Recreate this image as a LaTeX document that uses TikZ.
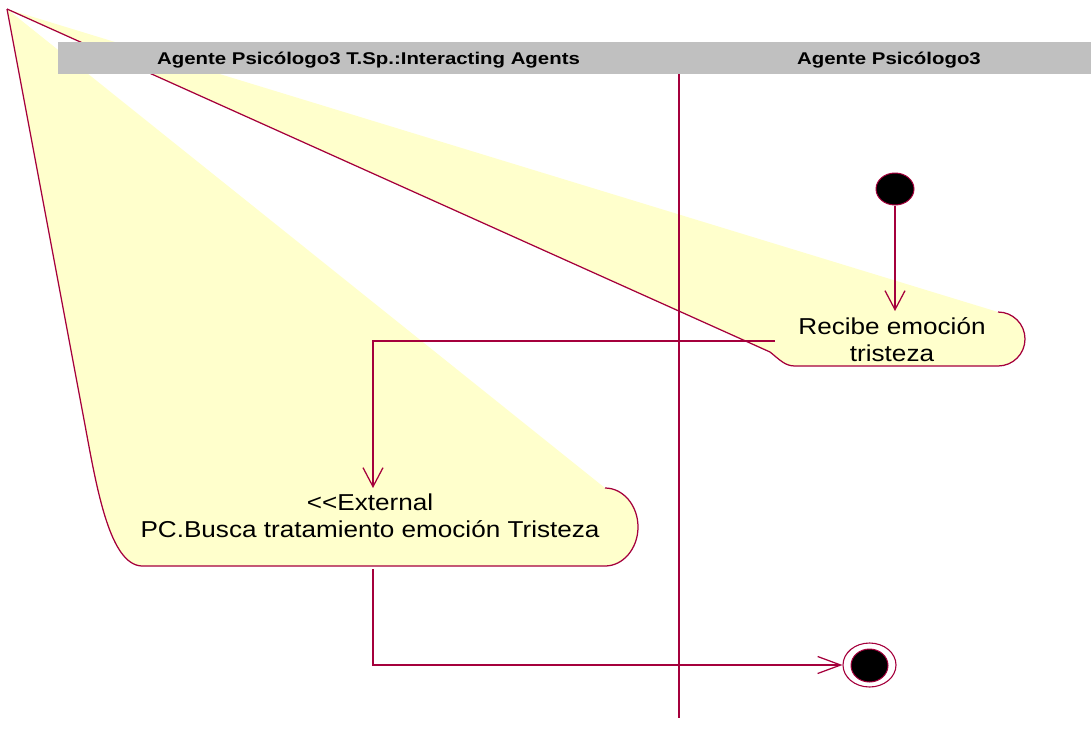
\documentclass[tikz,border=0pt]{standalone}
\usepackage{fontspec}
\usetikzlibrary{arrows.meta,shapes.geometric}
\newfontfamily\lanefont[FakeStretch=1.2]{Liberation Sans}
\newfontfamily\actfont[FakeStretch=1.135]{Liberation Sans}
\definecolor{edge}{RGB}{165,0,60}
\definecolor{actfill}{RGB}{255,255,204}
\definecolor{lanebar}{RGB}{192,192,192}

\begin{document}
\begin{tikzpicture}[x=1pt,y=-1pt,
  flow/.style={draw=edge, line width=1.25pt},
  flowarrow/.style={flow, -{Straight Barb[length=19pt,width=20pt,line width=1.25pt]}},
  endarrow/.style={flow, -{Straight Barb[length=23pt,width=17pt,line width=1.25pt]}},
  lanetitle/.style={anchor=base, inner sep=0pt, font={\lanefont\bfseries\fontsize{17}{20}\selectfont}},
  acttext/.style={align=center, inner sep=0pt, font={\actfont\fontsize{23}{27}\selectfont}},
  startdot/.style={ellipse, fill=black, draw=edge, line width=1pt, minimum width=38pt, minimum height=32pt, inner sep=0pt},
  endring/.style={ellipse, draw=edge, line width=1.1pt, minimum width=53pt, minimum height=44pt, inner sep=0pt},
  enddot/.style={ellipse, fill=black, draw=edge, line width=1pt, minimum width=37pt, minimum height=33pt, inner sep=0pt}]
\useasboundingbox (0,0) rectangle (1091,728);

% activity "Busca tratamiento": body and outline
\fill[actfill] (7,9) -- (605,488)
  .. controls (623.2,488) and (638,505.5) .. (638,527)
  .. controls (638,548.5) and (623.2,566) .. (605,566)
  -- (142,566) .. controls (110,565) and (97,490) .. (85,425) -- cycle;
\draw[flow] (605,488)
  .. controls (623.2,488) and (638,505.5) .. (638,527)
  .. controls (638,548.5) and (623.2,566) .. (605,566)
  -- (142,566) .. controls (110,565) and (97,490) .. (85,425) -- (7,9);

% activity "Recibe emocion": body and outline
\fill[actfill] (7,9) -- (998,312)
  .. controls (1012.9,312) and (1025,324.1) .. (1025,339)
  .. controls (1025,353.9) and (1012.9,366) .. (998,366)
  -- (795,366) .. controls (785,366) and (780,360) .. (770,352) -- cycle;
\draw[flow] (998,312)
  .. controls (1012.9,312) and (1025,324.1) .. (1025,339)
  .. controls (1025,353.9) and (1012.9,366) .. (998,366)
  -- (795,366) .. controls (785,366) and (780,360) .. (770,352) -- (7,9);

% swimlane header and divider
\fill[lanebar] (58,42) rectangle (1091,74);
\node[lanetitle] (laneA) at (368.5,64) {Agente Psicólogo3 T.Sp.:Interacting Agents};
\node[lanetitle] (laneB) at (889,64) {Agente Psicólogo3};
\draw[flow] (679,74) -- (679,718);

% activity labels
\node[acttext] (recibe) at (892,340) {Recibe emoción\\tristeza};
\node[acttext] (busca) at (370,516) {<{}<External\\PC.Busca tratamiento emoción Tristeza};

% initial and final states
\node[startdot] (start) at (895,189) {};
\node[endring] (finish) at (869.5,665) {};
\node[enddot] (finishdot) at (869.5,665.5) {};

% anchor points on the activity outlines
\coordinate (recibeIn) at (895,311);
\coordinate (recibeOut) at (775,341);
\coordinate (buscaIn) at (373,488);
\coordinate (buscaOut) at (373,569);

% transitions
\draw[flowarrow] (start.south) -- (recibeIn);
\draw[flowarrow] (recibeOut) -| (buscaIn);
\draw[endarrow] (buscaOut) |- (finish.west);
\end{tikzpicture}
\end{document}
